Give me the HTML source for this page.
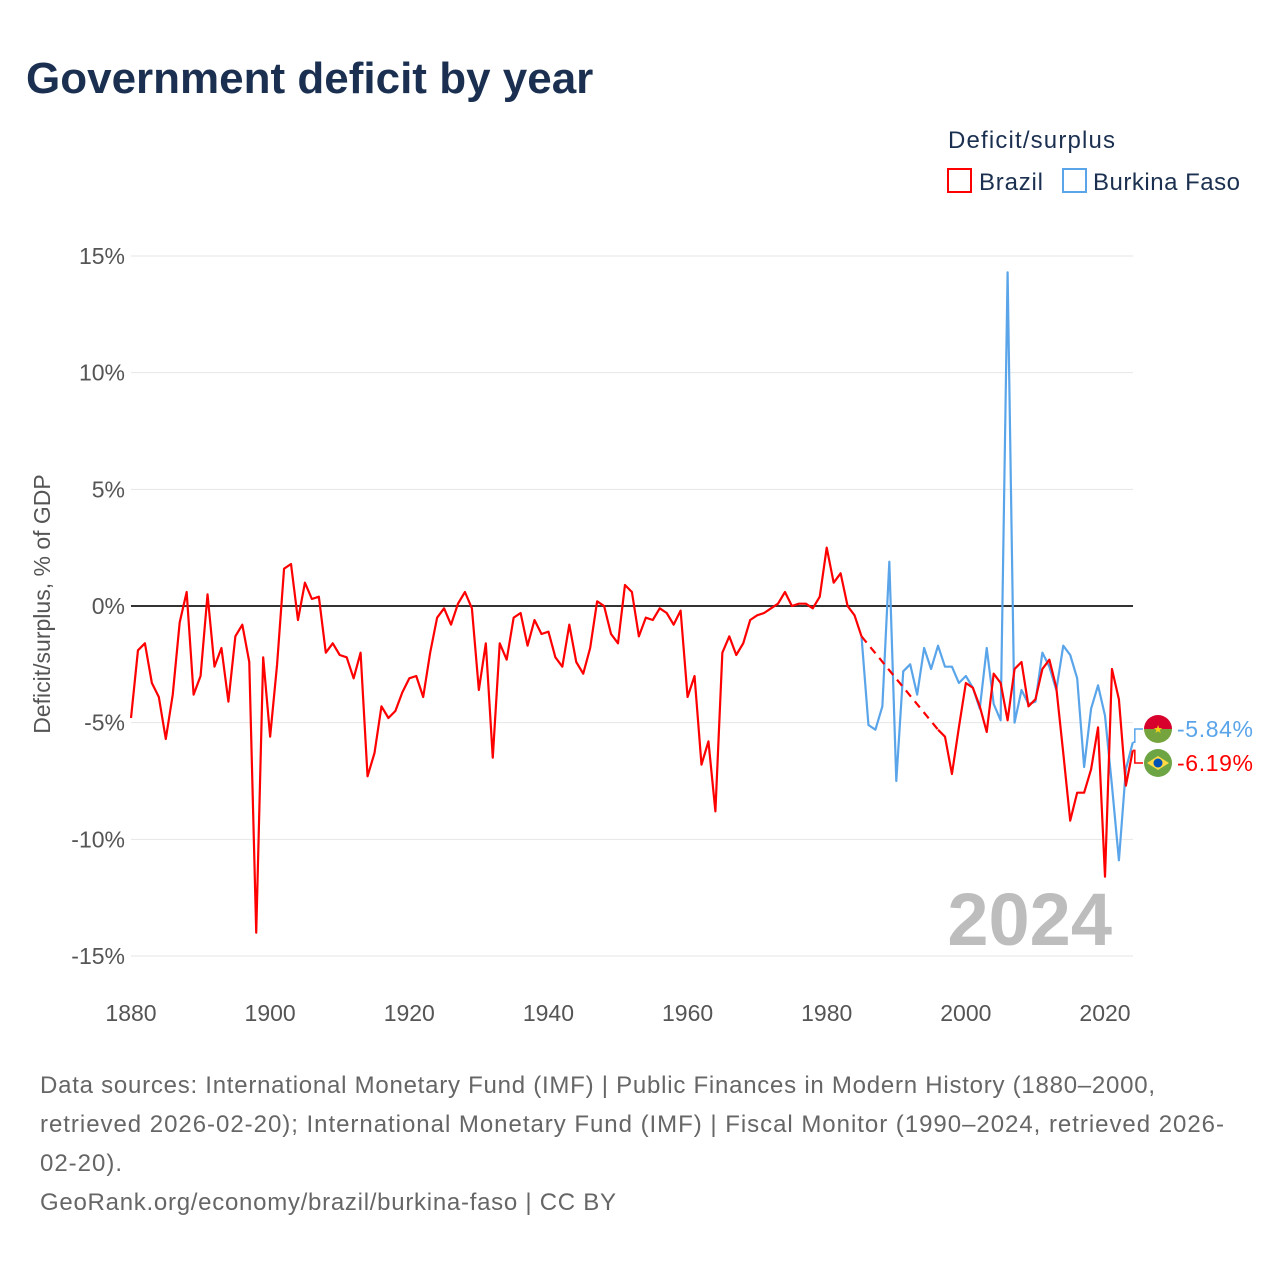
<!DOCTYPE html>
<html><head><meta charset="utf-8">
<style>
html,body{margin:0;padding:0;background:#fff;}
body{width:1280px;height:1280px;position:relative;font-family:"Liberation Sans",sans-serif;overflow:hidden;}
</style></head>
<body>
<svg id="chart" width="1280" height="1280" xmlns="http://www.w3.org/2000/svg">
  <text x="26" y="93" font-size="44" font-weight="bold" fill="#1b3050">Government deficit by year</text>
  <text x="948" y="148" font-size="24" fill="#1b3050" textLength="167">Deficit/surplus</text>
  <g>
    <rect x="948" y="169" width="23" height="23" fill="none" stroke="#ff0000" stroke-width="2"/>
    <text x="979" y="190" font-size="24" fill="#1b3050" textLength="64">Brazil</text>
  </g>
  <g>
    <rect x="1063" y="169" width="23" height="23" fill="none" stroke="#5aa5ea" stroke-width="2"/>
    <text x="1093" y="190" font-size="24" fill="#1b3050" textLength="147">Burkina Faso</text>
  </g>
  <text transform="translate(50,604) rotate(-90)" text-anchor="middle" font-size="23" fill="#555">Deficit/surplus, % of GDP</text>
  <g id="grid"></g>
  <g id="xticks"></g>
  <text x="1112" y="945" text-anchor="end" font-size="74" font-weight="bold" fill="#bdbdbd">2024</text>
  <g id="series"></g>
  <g id="endlabels"></g>
  <g font-size="24" fill="#666">
    <text x="40" y="1093" textLength="1115">Data sources: International Monetary Fund (IMF) | Public Finances in Modern History (1880–2000,</text>
    <text x="40" y="1132" textLength="1184">retrieved 2026-02-20); International Monetary Fund (IMF) | Fiscal Monitor (1990–2024, retrieved 2026-</text>
    <text x="40" y="1171" textLength="82">02-20).</text>
    <text x="40" y="1210" textLength="576">GeoRank.org/economy/brazil/burkina-faso | CC BY</text>
  </g>
</svg>
<script>
const startYear = 1880;
const brazil = [-4.8,-1.9,-1.6,-3.3,-3.9,-5.7,-3.8,-0.7,0.6,-3.8,
-3.0,0.5,-2.6,-1.8,-4.1,-1.3,-0.8,-2.4,-14.0,-2.2,
-5.6,-2.5,1.6,1.8,-0.6,1.0,0.3,0.4,-2.0,-1.6,
-2.1,-2.2,-3.1,-2.0,-7.3,-6.3,-4.3,-4.8,-4.5,-3.7,
-3.1,-3.0,-3.9,-2.0,-0.5,-0.1,-0.8,0.1,0.6,-0.1,
-3.6,-1.6,-6.5,-1.6,-2.3,-0.5,-0.3,-1.7,-0.6,-1.2,
-1.1,-2.2,-2.6,-0.8,-2.4,-2.9,-1.8,0.2,0.0,-1.2,
-1.6,0.9,0.6,-1.3,-0.5,-0.6,-0.1,-0.3,-0.8,-0.2,
-3.9,-3.0,-6.8,-5.8,-8.8,-2.0,-1.3,-2.1,-1.6,-0.6,
-0.4,-0.3,-0.1,0.1,0.6,0.0,0.1,0.1,-0.1,0.4,
2.5,1.0,1.4,0.0,-0.4,-1.3,null,null,null,null,
null,null,null,null,null,null,-5.3,-5.6,-7.2,-5.2,
-3.3,-3.5,-4.3,-5.4,-2.9,-3.3,-4.9,-2.7,-2.4,-4.3,
-4.0,-2.7,-2.3,-3.5,-6.3,-9.2,-8.0,-8.0,-7.0,-5.2,
-11.6,-2.7,-4.0,-7.7,-6.19];
const burkinaStart = 1985;
const burkina = [-1.3,-5.1,-5.3,-4.3,1.9,-7.5,-2.8,-2.5,-3.8,-1.8,
-2.7,-1.7,-2.6,-2.6,-3.3,-3.0,-3.5,-4.4,-1.8,-4.2,
-4.9,14.3,-5.0,-3.6,-4.2,-4.1,-2.0,-2.6,-3.6,-1.7,
-2.1,-3.1,-6.9,-4.4,-3.4,-4.7,-7.7,-10.9,-7.0,-5.84];
const yTicks = [15,10,5,0,-5,-10,-15];
const xTicks = [1880,1900,1920,1940,1960,1980,2000,2020];

const NS="http://www.w3.org/2000/svg";
const X0=131,X1=1133,Y0=606;
const xs = y => X0 + (y-1880)*(1105-131)/140;
const ys = v => Y0 - v*(350/15);
function mk(tag, attrs, parent){const e=document.createElementNS(NS,tag);for(const k in attrs)e.setAttribute(k,attrs[k]);parent.appendChild(e);return e;}
const grid=document.getElementById('grid');
yTicks.forEach(t=>{
  const l=mk('line',{x1:X0,x2:X1,y1:ys(t),y2:ys(t),stroke:t===0?'#333':'#e6e6e6','stroke-width':t===0?2:1},grid);
  
  
  const tx=mk('text',{x:125,y:ys(t)+8,'text-anchor':'end','font-size':23,fill:'#555'},grid);
  tx.textContent=t+'%';
  
  
});
const xt=document.getElementById('xticks');
xTicks.forEach(t=>{
  const tx=mk('text',{x:xs(t),y:1021,'text-anchor':'middle','font-size':23,fill:'#555'},xt);
  tx.textContent=t;
  
  
});
const ser=document.getElementById('series');
function segs(arr,start){const out=[];let cur=[];arr.forEach((v,i)=>{if(v===null){if(cur.length)out.push(cur);cur=[];}else cur.push([start+i,v]);});if(cur.length)out.push(cur);return out;}
function draw(arr,start,color,name){
  const s=segs(arr,start);
  s.forEach(seg=>{
    const p=mk('polyline',{points:seg.map(([y,v])=>xs(y)+','+ys(v)).join(' '),fill:'none',stroke:color,'stroke-width':2.2,'stroke-linejoin':'round'},ser);
    
    
  });
  for(let i=0;i<s.length-1;i++){
    const a=s[i][s[i].length-1],b=s[i+1][0];
    const d=mk('line',{x1:xs(a[0]),y1:ys(a[1]),x2:xs(b[0]),y2:ys(b[1]),stroke:color,'stroke-width':2.2,'stroke-dasharray':'8,6'},ser);
    
    
  }
}
draw(burkina,burkinaStart,'#5aa5ea','burkina-faso');
draw(brazil,startYear,'#ff0000','brazil');

const el=document.getElementById('endlabels');
function endLabel(v,lastYear,ly,color,name,flag){
  const g=mk('g',{},el);
  
  
  mk('polyline',{points:`${xs(lastYear)},${ys(v)} ${xs(lastYear)+2},${ys(v)} ${xs(lastYear)+2},${ly} 1143,${ly}`,fill:'none',stroke:color,'stroke-width':1.5},g);
  if(flag==='bf'){
    mk('path',{d:`M1144,${ly} A14,14 0 0 1 1172,${ly} Z`,fill:'#d8002c'},g);
    mk('path',{d:`M1144,${ly} A14,14 0 0 0 1172,${ly} Z`,fill:'#75a43e'},g);
    const st=mk('text',{x:1158,y:ly+4,'text-anchor':'middle','font-size':11,fill:'#f5d315'},g);st.textContent='★';
  } else {
    mk('circle',{cx:1158,cy:ly,r:14,fill:'#6da544'},g);
    mk('polygon',{points:`1147,${ly} 1158,${ly-7} 1169,${ly} 1158,${ly+7}`,fill:'#ffda44'},g);
    mk('circle',{cx:1158,cy:ly,r:4.5,fill:'#0052b4'},g);
  }
  const t=mk('text',{x:1177,y:ly+8,'font-size':23,fill:color,textLength:76},g);
  t.textContent=v.toFixed(2)+'%';
}
endLabel(burkina[burkina.length-1],burkinaStart+burkina.length-1,729,'#5aa5ea','burkina-faso','bf');
endLabel(brazil[brazil.length-1],startYear+brazil.length-1,763,'#ff0000','brazil','br');
</script>
</body></html>
